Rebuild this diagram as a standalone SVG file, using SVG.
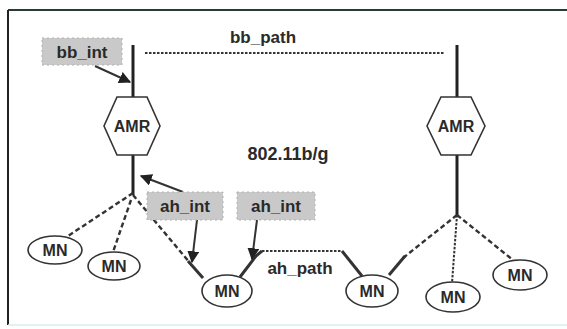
<svg xmlns="http://www.w3.org/2000/svg" width="567" height="329" viewBox="0 0 567 329">
<defs>
<style>
.t{font-family:"Liberation Sans",Arial,sans-serif;font-weight:bold;fill:#2a2a2a;text-anchor:middle}
.hex{fill:#fff;stroke:#333;stroke-width:1.6}
.mn{fill:#fff;stroke:#333;stroke-width:1.6}
.trunk{stroke:#222;stroke-width:3;fill:none}
.dash{stroke:#333;stroke-width:2.4;stroke-dasharray:5 3;fill:none}
.dot{stroke:#333;stroke-width:2;stroke-dasharray:2.5 1.5;fill:none}
.solid{stroke:#333;stroke-width:3;fill:none}
.box{fill:#c9c9c9;stroke:#b0b0b0;stroke-width:1;stroke-dasharray:2 3}
.arr{stroke:#333;stroke-width:2;fill:none;marker-end:url(#ah)}
</style>
<marker id="ah" viewBox="0 0 10 10" refX="9" refY="5" markerWidth="6" markerHeight="6" orient="auto" markerUnits="strokeWidth">
<path d="M0,0 L10,5 L0,10 z" fill="#222"/>
</marker>
</defs>
<rect width="567" height="329" fill="#fff"/>
<g id="frame">
<line x1="8" y1="10" x2="567" y2="10" stroke="#2a3a35" stroke-width="2"/>
<line x1="8" y1="10" x2="8" y2="325" stroke="#222" stroke-width="2"/>
<line x1="8" y1="325" x2="567" y2="325" stroke="#d6eef0" stroke-width="1.5"/>
</g>
<g id="connectors">
<line class="trunk" x1="133" y1="45" x2="133" y2="97"/>
<line class="trunk" x1="133" y1="155" x2="133" y2="195"/>
<line class="trunk" x1="457" y1="45" x2="457" y2="97"/>
<line class="trunk" x1="457" y1="155" x2="457" y2="215"/>
<line class="dot" x1="145" y1="53" x2="445" y2="53"/>
<line class="dash" x1="133" y1="193" x2="68" y2="236"/>
<line class="dash" x1="131" y1="200" x2="113" y2="252"/>
<path class="dash" d="M133,195 L190,263"/>
<path class="solid" d="M188,261 L203,278"/>
<path class="solid" d="M240,277 L256,256 L262,251"/>
<line class="dot" x1="262" y1="251" x2="342" y2="251"/>
<path class="solid" d="M342,251 L362,276"/>
<path class="dash" d="M457,215 L403,258"/>
<path class="solid" d="M405,256 L389,275"/>
<line class="dot" x1="457" y1="215" x2="452" y2="283"/>
<line class="dash" x1="457" y1="215" x2="513" y2="260"/>
<line class="arr" x1="95" y1="66" x2="130" y2="82"/>
<line class="arr" x1="183" y1="192" x2="141" y2="176"/>
<line class="arr" x1="197" y1="220" x2="192" y2="262"/>
<line class="arr" x1="257" y1="220" x2="252" y2="259"/>
</g>
<g id="bb_int">
<rect class="box" x="42" y="38" width="80" height="27"/>
<text class="t" x="82" y="58" font-size="17">bb_int</text>
</g>
<g id="ah_int_1">
<rect class="box" x="147" y="192" width="76" height="28"/>
<text class="t" x="185" y="212" font-size="17">ah_int</text>
</g>
<g id="ah_int_2">
<rect class="box" x="237" y="192" width="78" height="28"/>
<text class="t" x="276" y="212" font-size="17">ah_int</text>
</g>
<g id="amr_left">
<polygon class="hex" points="117,97 147,97 160,126 147,155 117,155 104,126"/>
<text class="t" x="132" y="132" font-size="16">AMR</text>
</g>
<g id="amr_right">
<polygon class="hex" points="441,97 471,97 485,126 471,155 441,155 427,126"/>
<text class="t" x="456" y="132" font-size="16">AMR</text>
</g>
<g id="mn1">
<ellipse class="mn" cx="55" cy="250" rx="27" ry="14"/>
<text class="t" x="55" y="256" font-size="16">MN</text>
</g>
<g id="mn2">
<ellipse class="mn" cx="114" cy="266" rx="26" ry="14"/>
<text class="t" x="114" y="272" font-size="16">MN</text>
</g>
<g id="mn3">
<ellipse class="mn" cx="227" cy="291" rx="25" ry="16"/>
<text class="t" x="227" y="297" font-size="16">MN</text>
</g>
<g id="mn4">
<ellipse class="mn" cx="372" cy="291" rx="26" ry="16"/>
<text class="t" x="372" y="297" font-size="16">MN</text>
</g>
<g id="mn5">
<ellipse class="mn" cx="453" cy="297" rx="27" ry="15"/>
<text class="t" x="453" y="303" font-size="16">MN</text>
</g>
<g id="mn6">
<ellipse class="mn" cx="520" cy="275" rx="27" ry="15"/>
<text class="t" x="520" y="281" font-size="16">MN</text>
</g>
<g id="labels">
<text class="t" x="263" y="43" font-size="17">bb_path</text>
<text class="t" x="288" y="160" font-size="18">802.11b/g</text>
<text class="t" x="300" y="274" font-size="17">ah_path</text>
</g>
</svg>
